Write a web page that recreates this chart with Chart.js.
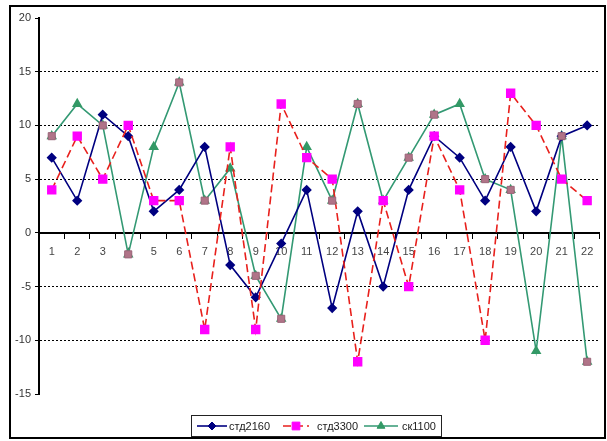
<!DOCTYPE html>
<html lang="ru">
<head>
  <meta charset="UTF-8">
  <title>Chart</title>
  <script src="https://cdn.jsdelivr.net/npm/chart.js"></script>
  <style>
    html, body { margin: 0; padding: 0; background: #fff; }
    canvas { display: block; }
  </style>
</head>
<body>
<canvas id="lineChart" width="607" height="441"></canvas>
<script>
  // data
  const categories = ['1','2','3','4','5','6','7','8','9','10','11','12','13','14','15','16','17','18','19','20','21','22'];
  const std2160 = [7, 3, 11, 9, 2, 4, 8, -3, -6, -1, 4, -7, 2, -5, 4, 9, 7, 3, 8, 2, 9, 10];
  const std3300 = [4, 9, 5, 10, 3, 3, -9, 8, -9, 12, 7, 5, -12, 3, -5, 9, 4, -10, 13, 10, 5, 3];
  const sk1100 = [9, 12, 10, -2, 8, 14, 3, 6, -4, -8, 8, 3, 12, 3, 7, 11, 12, 5, 4, -11, 9, -12];
  // categories where the green marker shows up as a mauve square
  const mixedIdx = [1, 3, 4, 6, 7, 9, 10, 12, 13, 15, 16, 18, 19, 21, 22];
  const yTicks = [-15, -10, -5, 0, 5, 10, 15, 20];

  const FONT = "'Liberation Sans', Arial, sans-serif";

  const mixed = sk1100.map((v, i) => mixedIdx.includes(i + 1) ? v : null);

  // frame + legend drawn by hand, Excel style
  const excelBits = {
    id: 'excelBits',
    afterDraw(chart) {
      const ctx = chart.ctx;
      ctx.save();
      ctx.strokeStyle = '#000';
      ctx.lineWidth = 2;
      ctx.strokeRect(10, 6, 595, 432);

      ctx.lineWidth = 1;
      ctx.strokeStyle = '#222';
      ctx.strokeRect(191.5, 415.5, 250, 21);

      const items = [
        { ds: 0, cx: 212, tx: 229, w: 30 },
        { ds: 1, cx: 296, tx: 317, w: 26 },
        { ds: 2, cx: 381, tx: 402, w: 34 }
      ];
      const y = 426;
      items.forEach(it => {
        const d = chart.data.datasets[it.ds];
        ctx.save();
        ctx.strokeStyle = d.borderColor;
        ctx.lineWidth = d.borderWidth;
        ctx.setLineDash(d.borderDash || []);
        ctx.beginPath();
        ctx.moveTo(it.cx - it.w / 2, y);
        ctx.lineTo(it.cx + it.w / 2, y);
        ctx.stroke();
        ctx.setLineDash([]);
        ctx.fillStyle = d.pointBackgroundColor;
        ctx.strokeStyle = d.pointBorderColor;
        ctx.lineWidth = 1;
        Chart.helpers.drawPoint(ctx, { pointStyle: d.pointStyle, radius: d.pointRadius, borderWidth: 1, rotation: 0 }, it.cx, y);
        ctx.restore();
        ctx.fillStyle = '#222';
        ctx.font = '11px ' + FONT;
        ctx.textBaseline = 'middle';
        ctx.textAlign = 'left';
        ctx.fillText(d.label, it.tx, y + 0.5);
      });
      ctx.restore();
    }
  };

  new Chart(document.getElementById('lineChart').getContext('2d'), {
    type: 'line',
    data: {
      labels: categories,
      datasets: [
        {
          label: 'стд2160',
          data: std2160,
          borderColor: '#000080',
          borderWidth: 1.6,
          pointStyle: 'rectRot',
          pointRadius: 4,
          pointBackgroundColor: '#000080',
          pointBorderColor: '#000080',
          order: 2
        },
        {
          label: 'стд3300',
          data: std3300,
          borderColor: '#e8201c',
          borderWidth: 1.6,
          borderDash: [8, 4],
          pointStyle: 'rect',
          pointRadius: 5.5,
          pointBackgroundColor: '#ff00ff',
          pointBorderColor: '#ff00ff',
          order: 1
        },
        {
          label: 'ск1100',
          data: sk1100,
          borderColor: '#339973',
          borderWidth: 1.6,
          pointStyle: 'triangle',
          pointRadius: 4.5,
          pointBackgroundColor: '#339966',
          pointBorderColor: '#339966',
          order: 3
        },
        {
          label: 'mix',
          data: mixed,
          showLine: false,
          spanGaps: false,
          pointStyle: 'rect',
          pointRadius: 5,
          pointBackgroundColor: '#b07488',
          pointBorderColor: '#9a6478',
          pointBorderWidth: 1,
          order: 0
        }
      ]
    },
    options: {
      responsive: false,
      animation: false,
      tension: 0,
      layout: { padding: { left: 10, top: 18, right: 6, bottom: 47 } },
      plugins: {
        legend: { display: false },
        tooltip: { enabled: false }
      },
      scales: {
        x: {
          position: { y: 0 },
          offset: true,
          afterFit(scale) { scale.height = 0; },
          grid: {
            display: true,
            drawOnChartArea: false,
            drawTicks: true,
            tickLength: 5,
            offset: true,
            tickColor: '#000',
            tickWidth: 1
          },
          border: { display: true, color: '#000', width: 2 },
          ticks: {
            padding: 8,
            color: '#444',
            font: { family: FONT, size: 11 },
            maxRotation: 0,
            autoSkip: false
          }
        },
        y: {
          min: yTicks[0],
          max: yTicks[yTicks.length - 1],
          afterFit(scale) { scale.width = 29; },
          afterBuildTicks(scale) { scale.ticks = yTicks.map(v => ({ value: v })); },
          grid: {
            color: ctx => (ctx.tick && [-10, -5, 5, 10, 15].includes(ctx.tick.value)) ? '#000' : 'rgba(0,0,0,0)',
            lineWidth: 1,
            drawTicks: true,
            tickLength: 4,
            tickColor: '#000',
            tickBorderDash: []
          },
          border: { display: true, color: '#000', width: 2, dash: [2, 2] },
          ticks: {
            padding: 4,
            color: '#333',
            font: { family: FONT, size: 11 }
          }
        }
      }
    },
    plugins: [excelBits]
  });
</script>
</body>
</html>
